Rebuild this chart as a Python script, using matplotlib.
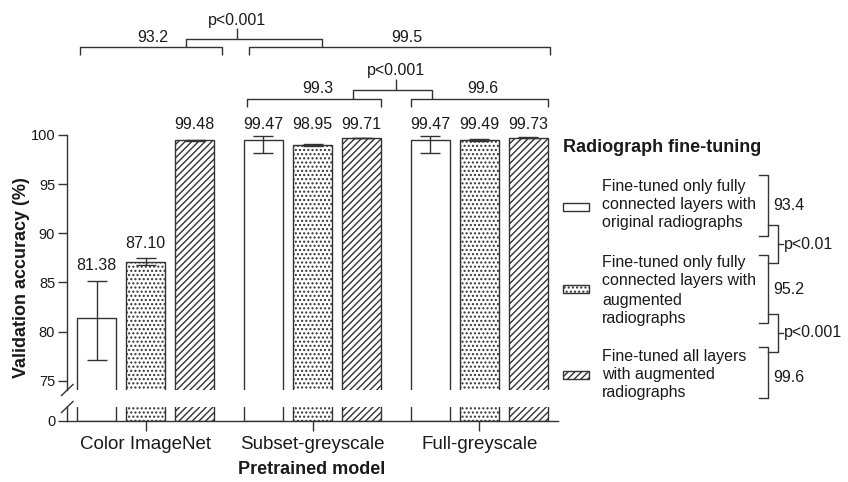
import matplotlib
matplotlib.use('Agg')
import matplotlib.pyplot as plt
import matplotlib.transforms as mtransforms
from matplotlib.patches import Rectangle
from matplotlib.lines import Line2D
import numpy as np

plt.rcParams['font.family'] = ['Liberation Sans', 'DejaVu Sans']
plt.rcParams['hatch.linewidth'] = 1.0
EC = '#333333'
TC = '#1a1a1a'
plt.rcParams['hatch.color'] = EC

# ---------------- data ----------------
models = ['Color ImageNet', 'Subset-greyscale', 'Full-greyscale']
fc_original = [81.38, 99.47, 99.47]
fc_original_err_lo = [4.27, 1.33, 1.33]
fc_original_err_hi = [3.80, 0.43, 0.43]
fc_augmented = [87.10, 98.95, 99.49]
fc_augmented_err = [0.35, 0.10, 0.10]
all_augmented = [99.48, 99.71, 99.73]
all_augmented_err = [0.05, 0.03, 0.03]
y_ticks = [75, 80, 85, 90, 95, 100]

model_means = ['93.2', '99.5']          # Color vs greyscale models
greyscale_means = ['99.3', '99.6']      # subset vs full greyscale
model_p = 'p<0.001'
greyscale_p = 'p<0.001'

legend_title = 'Radiograph fine-tuning'
legend_labels = [
    ['Fine-tuned only fully', 'connected layers with', 'original radiographs'],
    ['Fine-tuned only fully', 'connected layers with', 'augmented', 'radiographs'],
    ['Fine-tuned all layers', 'with augmented', 'radiographs'],
]
legend_means = ['93.4', '95.2', '99.6']
legend_p = ['p<0.01', 'p<0.001']

# ---------------- figure ----------------
W, H = 848, 482
fig = plt.figure(figsize=(W / 100, H / 100), dpi=100)
pt = mtransforms.Affine2D().scale(1 / W, -1 / H).translate(0, 1) + fig.transFigure


def px_axes(l, t, r, b):
    return fig.add_axes([l / W, 1 - b / H, (r - l) / W, (b - t) / H])


ax = px_axes(67, 135, 558, 390)
axb = px_axes(67, 407, 558, 421)

x = np.arange(len(models))
step, width = 0.294, 0.234
DOTS, STRIPES = '....', '/////'
series = [
    (fc_original, [fc_original_err_lo, fc_original_err_hi], ''),
    (fc_augmented, [fc_augmented_err, fc_augmented_err], DOTS),
    (all_augmented, [all_augmented_err, all_augmented_err], STRIPES),
]
for k, (vals, err, hatch) in enumerate(series):
    xs = x + (k - 1) * step
    for a in (ax, axb):
        a.bar(xs, vals, width, color='white', edgecolor=EC, linewidth=1.0,
              hatch=hatch, zorder=2)
    ax.errorbar(xs, vals, yerr=err, fmt='none', ecolor=EC, elinewidth=1.0,
                capsize=7, capthick=1.0, zorder=3)
    for xi, v, hi in zip(xs, vals, err[1]):
        top = v + hi
        # labels of near-100 bars share one row just above the axis top
        anchor = 99.9 if top > 99 else top + 0.3
        ax.annotate(f'{v:.2f}', (xi, anchor), xytext=(0, 5.2),
                    textcoords='offset points', ha='center', va='baseline',
                    fontsize=11.5, color=TC, annotation_clip=False)

xlim = (-0.472, 2.472)
for a in (ax, axb):
    a.set_xlim(*xlim)
    a.spines['top'].set_visible(False)
    a.spines['right'].set_visible(False)
    for s in a.spines.values():
        s.set_color(EC)
        s.set_linewidth(1.0)
    a.tick_params(axis='both', colors=EC, width=1.0, labelcolor=TC)

ax.set_ylim(74.05, 100)
ax.spines['bottom'].set_visible(False)
ax.set_xticks([])
ax.set_yticks(y_ticks)
ax.tick_params(axis='y', length=6.5, labelsize=10.5, pad=2)

axb.set_ylim(0, 1.4)
axb.set_yticks([0])
axb.tick_params(axis='y', length=6.5, labelsize=10.5, pad=2)
axb.set_xticks(x)
axb.set_xticklabels(models)
axb.tick_params(axis='x', length=7.5, labelsize=13.5, pad=3)

# axis break marks, centred on the two spine ends
for yc in (390, 407):
    fig.add_artist(Line2D([61.5, 73], [yc + 5.5, yc - 5.5],
                          transform=pt, color=EC, lw=1.0))

fig.text(22, 278, 'Validation accuracy (%)', transform=pt, rotation=90,
         ha='center', va='center', fontsize=13, fontweight='bold', color=TC)
fig.text(312, 470, 'Pretrained model', transform=pt, ha='center', va='center',
         fontsize=13, fontweight='bold', color=TC)


# ---------------- comparison brackets (data coords) ----------------
def ln(xs_, ys_):
    ax.plot(xs_, ys_, color=EC, lw=1.0, clip_on=False, solid_capstyle='butt')


def txt(xp, yp, s):
    ax.text(xp, yp, s, ha='center', va='center', fontsize=11.5, color=TC,
            clip_on=False)


# level 1: Color ImageNet vs greyscale models
y1, d1 = 108.92, 0.78
ln([-0.394, -0.394, 0.457, 0.457], [y1 - d1, y1, y1, y1 - d1])
ln([0.619, 0.619, 2.424, 2.424], [y1 - d1, y1, y1, y1 - d1])
txt(0.044, 109.97, model_means[0])
txt(1.567, 109.97, model_means[1])
ln([0.242, 0.242, 1.057, 1.057], [y1, 109.80, 109.80, y1])
ln([0.547, 0.547], [109.80, 110.88])
txt(0.547, 111.70, model_p)

# level 2: Subset vs Full greyscale
y2, d2 = 103.63, 0.81
ln([0.607, 0.607, 1.411, 1.411], [y2 - d2, y2, y2, y2 - d2])
ln([1.591, 1.591, 2.412, 2.412], [y2 - d2, y2, y2, y2 - d2])
txt(1.033, 104.78, greyscale_means[0])
txt(2.022, 104.78, greyscale_means[1])
ln([1.243, 1.243, 1.716, 1.716], [y2, 104.58, 104.58, y2])
ln([1.5, 1.5], [104.58, 105.70])
txt(1.5, 106.61, greyscale_p)

# ---------------- legend (pixel layout) ----------------
fig.text(563, 148, legend_title, transform=pt, ha='left', va='center',
         fontsize=13, fontweight='bold', color=TC)
hatches = ['', DOTS, STRIPES]
line_y = [[187, 205, 223], [263, 281, 300, 318], [357, 375, 393]]
patch_y = [207, 289, 375]
for lines, ys, py, h in zip(legend_labels, line_y, patch_y, hatches):
    fig.add_artist(Rectangle((563, py - 4), 26, 8, transform=pt, facecolor='white',
                             edgecolor=EC, linewidth=1.0, hatch=h))
    for s, yy in zip(lines, ys):
        fig.text(602, yy, s, transform=pt, ha='left', va='center',
                 fontsize=11.5, color=TC)


def pln(xs_, ys_):
    fig.add_artist(Line2D(xs_, ys_, transform=pt, color=EC, lw=1.0))


brackets = [(175, 236, 205), (255, 323, 289), (347, 398, 377)]
for (t, b, ym), m in zip(brackets, legend_means):
    pln([759, 768, 768, 759], [t, t, b, b])
    fig.text(773, ym, m, transform=pt, ha='left', va='center', fontsize=11.5, color=TC)

conns = [(225, 263), (314, 352)]
for (t, b), p in zip(conns, legend_p):
    pln([768, 778, 778, 768], [t, t, b, b])
    mid = (t + b) / 2
    pln([778, 783], [mid, mid])
    fig.text(784, mid, p, transform=pt, ha='left', va='center', fontsize=11.5, color=TC)

fig.savefig('out.png', dpi=100)
